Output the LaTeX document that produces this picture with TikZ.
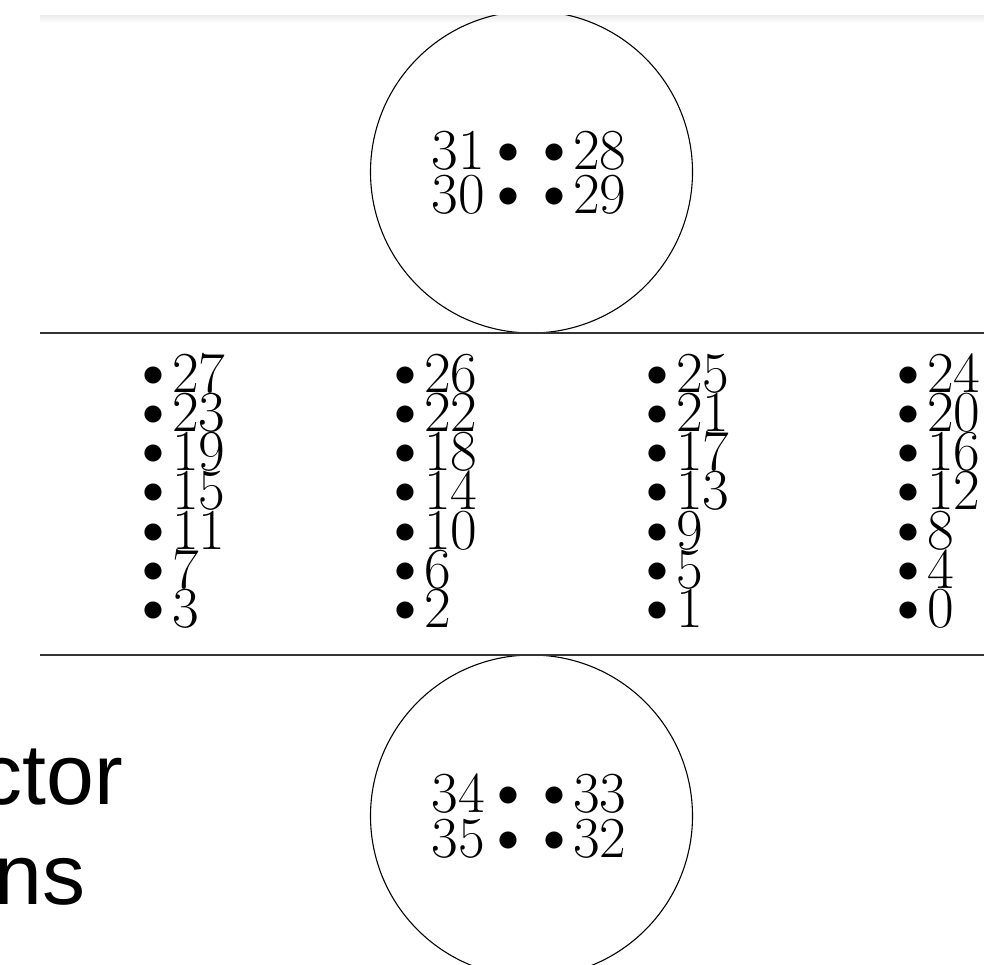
\documentclass[tikz,border=0pt]{standalone}
\usepackage{fix-cm}
\usepackage{fontspec}
\newfontfamily\labelsans{Liberation Sans}
\newcommand\pinfont{\fontsize{58}{58}\selectfont}
\newcommand\dotfont{\fontsize{44}{44}\selectfont}
\newcommand\captionfont{\labelsans\fontsize{86}{86}\selectfont}
\tikzset{
  x=1pt, y=-1pt,
  pinnum/.style={inner sep=0pt, outer sep=0pt, font=\pinfont},
  pindot/.style={inner sep=0pt, outer sep=0pt, font=\dotfont, anchor=base, yshift=6pt},
  plug/.style={circle, draw, line width=1.1pt, minimum size=322pt, inner sep=0pt},
  rail/.style={draw=black!80, line width=1.4pt},
  caption/.style={inner sep=0pt, outer sep=0pt, font=\captionfont},
}
\begin{document}
\begin{tikzpicture}
\useasboundingbox (0,0) rectangle (984,965);
\clip (0,0) rectangle (984,965);
\fill[white] (0,0) rectangle (984,965);

% faint shadow band along the top edge
\shade[top color=black!8, bottom color=white] (40,15) rectangle (984,23);

% round plugs above and below the pin strip
\node[plug] (plugtop) at (531.5,172) {};
\node[plug] (plugbot) at (531.5,816) {};
\fill[white] (0,0) rectangle (984,15);

% the two rails bounding the pin strip
\coordinate (railAw) at (40,333);
\coordinate (railAe) at (984,333);
\coordinate (railBw) at (40,655);
\coordinate (railBe) at (984,655);
\draw[rail] (railAw) -- (railAe);
\draw[rail] (railBw) -- (railBe);

% pin strip: four columns of seven pins
\foreach \col/\bx in {0/153,1/405,2/657,3/908}{
  \foreach \row in {0,...,6}{
    \pgfmathtruncatemacro{\pin}{27-\col-4*\row}
    \pgfmathsetmacro{\by}{392+39.3*\row}
    \node[pindot] (dot\pin) at (\bx,\by) {$\bullet$};
    \node[pinnum, anchor=base west] (num\pin) at (\bx+19,\by) {\pin};
  }
}

% pins of the two round plugs
\foreach \pin/\side/\by in {31/l/170,30/l/214,28/r/170,29/r/214,
                            34/l/812,35/l/857,33/r/812,32/r/857}{
  \if\side l
    \node[pindot] (dot\pin) at (508,\by) {$\bullet$};
    \node[pinnum, anchor=base east] (num\pin) at (485,\by) {\pin};
  \else
    \node[pindot] (dot\pin) at (554,\by) {$\bullet$};
    \node[pinnum, anchor=base west] (num\pin) at (573,\by) {\pin};
  \fi
}

% caption text at the left edge
\node[caption, anchor=base east] (capA) at (123,804) {ctor};
\node[caption, anchor=base west] (capB) at (-5.7,904) {ns};
\end{tikzpicture}
\end{document}
